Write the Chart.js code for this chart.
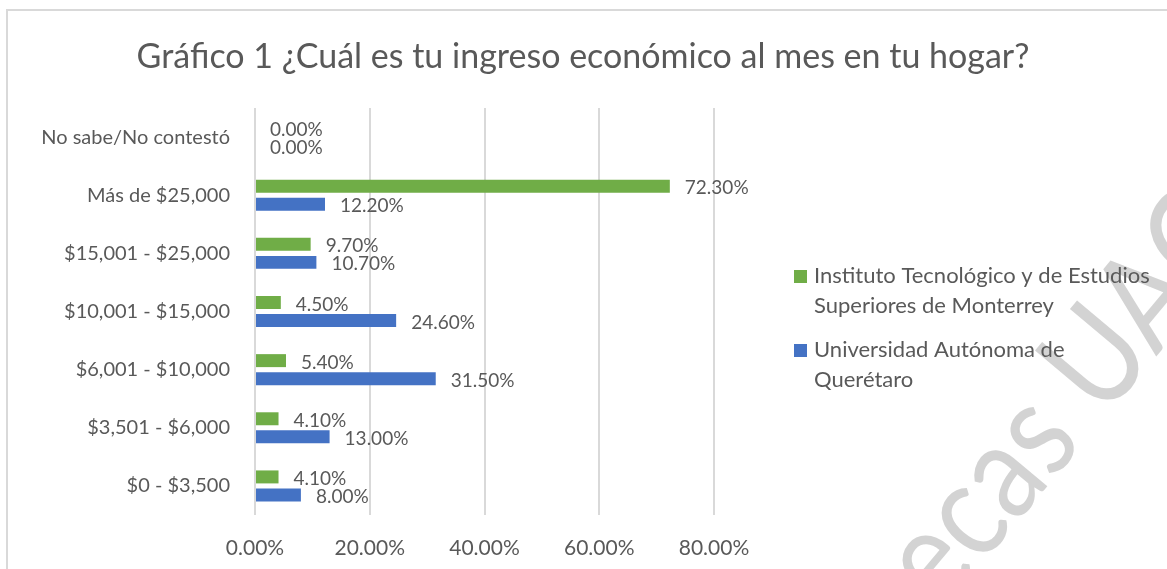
<!DOCTYPE html>
<html>
<head>
<meta charset="utf-8">
<script src="https://cdn.jsdelivr.net/npm/chart.js@4.4.0/dist/chart.umd.min.js"></script>
<style>
  html, body { margin: 0; padding: 0; background: #fff; }
  canvas { display: block; }
</style>
</head>
<body>
<canvas id="chart" width="1167" height="569"></canvas>
<script>
// datos del gráfico
const categories = [
  'No sabe/No contestó',
  'Más de $25,000',
  '$15,001 - $25,000',
  '$10,001 - $15,000',
  '$6,001 - $10,000',
  '$3,501 - $6,000',
  '$0 - $3,500'
];
const itesmValues = [0, 72.3, 9.7, 4.5, 5.4, 4.1, 4.1];
const uaqValues = [0, 12.2, 10.7, 24.6, 31.5, 13.0, 8.0];
const seriesNames = [
  'Instituto Tecnológico y de Estudios Superiores de Monterrey',
  'Universidad Autónoma de Querétaro'
];
const legendLines = [
  ['Instituto Tecnológico y de Estudios', 'Superiores de Monterrey'],
  ['Universidad Autónoma de', 'Querétaro']
];
const xTicks = [0, 20, 40, 60, 80];
const chartTitle = 'Gráfico 1 ¿Cuál es tu ingreso económico al mes en tu hogar?';
const watermark = 'Bibliotecas UAQ';

const FONT = 'Lato';
const TEXT = '#595959';
const colors = ['#70AD47', '#4472C4'];

// marco y marca de agua
const frame = {
  id: 'frame',
  beforeDraw(chart) {
    const { ctx } = chart;
    ctx.save();
    ctx.fillStyle = '#fff';
    ctx.fillRect(0, 0, chart.width, chart.height);
    ctx.strokeStyle = '#d9d9d9';
    ctx.lineWidth = 2;
    ctx.strokeRect(7, 10, 1300, 700);

    ctx.font = '135px ' + FONT;
    ctx.fillStyle = 'rgba(150,150,150,0.42)';
    const ang = -50 * Math.PI / 180;
    const sx = 0.85; // letra más estrecha
    const before = ctx.measureText('Bibliotecas ').width * sx;
    const ux = 1103, uy = 420;
    const ox = ux - before * Math.cos(ang);
    const oy = uy - before * Math.sin(ang);
    ctx.translate(ox, oy);
    ctx.rotate(ang);
    ctx.scale(sx, 1);
    ctx.textBaseline = 'alphabetic';
    ctx.fillText(watermark, 0, 0);
    ctx.restore();
  }
};

// título y leyenda
const titleLegend = {
  id: 'titleLegend',
  afterDraw(chart) {
    const { ctx } = chart;
    ctx.save();
    ctx.fillStyle = TEXT;
    ctx.font = '34px ' + FONT;
    ctx.textAlign = 'center';
    ctx.textBaseline = 'middle';
    ctx.fillText(chartTitle, 583, 57);

    ctx.font = '22px ' + FONT;
    ctx.textAlign = 'left';
    const starts = [276, 350];
    chart.data.datasets.forEach((ds, i) => {
      const y0 = starts[i];
      ctx.fillStyle = ds.backgroundColor;
      ctx.fillRect(794, y0 - 6, 13, 13);
      ctx.fillStyle = TEXT;
      legendLines[i].forEach((line, j) => {
        ctx.fillText(line, 814, y0 + j * 30);
      });
    });
    ctx.restore();
  }
};

// etiquetas de datos
const barLabels = {
  id: 'barLabels',
  afterDatasetsDraw(chart) {
    const { ctx } = chart;
    ctx.save();
    ctx.font = '19px ' + FONT;
    ctx.fillStyle = TEXT;
    ctx.textAlign = 'left';
    ctx.textBaseline = 'middle';
    chart.data.datasets.forEach((ds, i) => {
      chart.getDatasetMeta(i).data.forEach((bar, k) => {
        ctx.fillText(ds.data[k].toFixed(2) + '%', bar.x + 15, bar.y + 2);
      });
    });
    ctx.restore();
  }
};

new Chart(document.getElementById('chart'), {
  type: 'bar',
  data: {
    labels: categories,
    datasets: [
      { label: seriesNames[0], data: itesmValues, backgroundColor: colors[0] },
      { label: seriesNames[1], data: uaqValues, backgroundColor: colors[1] }
    ]
  },
  options: {
    indexAxis: 'y',
    responsive: false,
    animation: false,
    devicePixelRatio: 1,
    categoryPercentage: 0.62,
    barPercentage: 0.72,
    layout: { padding: { top: 108, right: 453, bottom: 0, left: 0 } },
    plugins: {
      legend: { display: false },
      title: { display: false },
      tooltip: { enabled: false }
    },
    scales: {
      x: {
        min: 0,
        max: 80,
        afterBuildTicks: (scale) => { scale.ticks = xTicks.map(v => ({ value: v })); },
        afterFit: (scale) => { scale.height = 54; },
        ticks: {
          color: TEXT,
          font: { family: FONT, size: 21 },
          padding: 21,
          callback: (v) => Number(v).toFixed(2) + '%'
        },
        grid: { color: '#d9d9d9', lineWidth: 2, drawTicks: false },
        border: { display: false }
      },
      y: {
        afterFit: (scale) => { scale.width = 255; },
        ticks: {
          color: TEXT,
          font: { family: FONT, size: 20 },
          padding: 25
        },
        grid: { display: false, drawTicks: false },
        border: { display: false }
      }
    }
  },
  plugins: [frame, titleLegend, barLabels]
});
</script>
</body>
</html>
